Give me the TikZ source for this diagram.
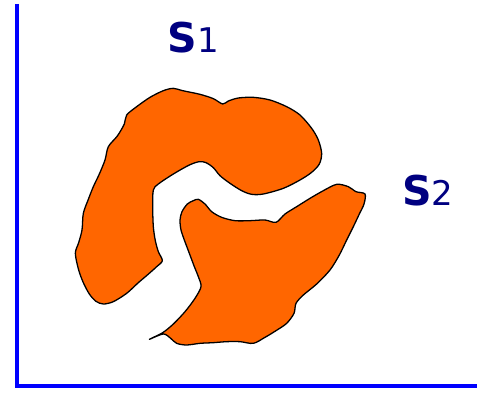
\documentclass[tikz,border=0pt]{standalone}
\usepackage{fontspec}
\usepackage{tikz}
\newfontfamily\labelfont{DejaVu Sans}
\definecolor{blobfill}{RGB}{255,102,0}
\definecolor{labelblue}{RGB}{0,0,128}
\definecolor{axisblue}{RGB}{0,0,255}
\newcommand{\setname}[1]{{\fontsize{35}{35}\selectfont\bfseries S}{\fontsize{29}{29}\selectfont #1}}

\begin{document}
\begin{tikzpicture}[x=0.01cm, y=-0.01cm,
  blob/.style={fill=blobfill, draw=black, line width=1.1pt, line join=round},
  axis/.style={draw=axisblue, line width=4.2pt},
  setlabel/.style={text=labelblue, inner sep=0pt, anchor=base west, font=\labelfont}]
  \useasboundingbox (0,0) rectangle (1431,1185);

  \coordinate (ytop) at (51,12);
  \coordinate (origin) at (51,1158);
  \coordinate (xend) at (1431,1158);
  \draw[axis] (ytop) -- (origin) -- (xend);

  \draw[blob] plot[smooth cycle, tension=0.5] coordinates {
    (520,265) (548,272) (600,283) (640,296) (668,312) (685,303) (715,294) (760,292)
    (810,300) (860,320) (900,345) (935,385) (955,420) (965,460) (958,492) (935,517)
    (900,540) (850,565) (790,582) (755,583) (725,572) (690,550) (660,527) (640,503)
    (618,488) (598,485) (568,495) (520,522) (475,552) (460,570) (458,620) (460,680)
    (466,722) (475,755) (487,782) (470,800) (442,825) (415,848) (380,880) (340,905)
    (310,912) (288,904) (268,882) (250,848) (236,810) (226,760) (236,728) (246,690)
    (250,640) (265,598) (280,560) (298,522) (315,480) (325,440) (352,408) (373,372)
    (380,345) (410,320) (450,292) (490,272)};

  \draw[blob] plot[smooth cycle, tension=0.5] coordinates {
    (595,598) (615,612) (635,635) (665,652) (705,662) (750,662) (795,660) (828,667)
    (855,642) (890,620) (930,595) (970,572) (1010,553) (1045,560) (1068,575) (1095,582)
    (1092,612) (1078,642) (1060,680) (1040,720) (1018,765) (990,810) (950,852) (910,885)
    (888,910) (882,940) (860,970) (828,992) (795,1012) (760,1030) (720,1025) (680,1025)
    (640,1028) (600,1030) (560,1035) (530,1030) (512,1015) (490,1002) (448,1018) (488,998)
    (520,972) (555,935) (585,895) (603,860) (595,830) (583,800) (568,760) (553,720)
    (543,690) (540,660) (546,635) (562,612) (580,602)};

  \node[setlabel] (s1) at (503,158) {\setname{1}};
  \node[setlabel] (s2) at (1206,615) {\setname{2}};
\end{tikzpicture}
\end{document}
